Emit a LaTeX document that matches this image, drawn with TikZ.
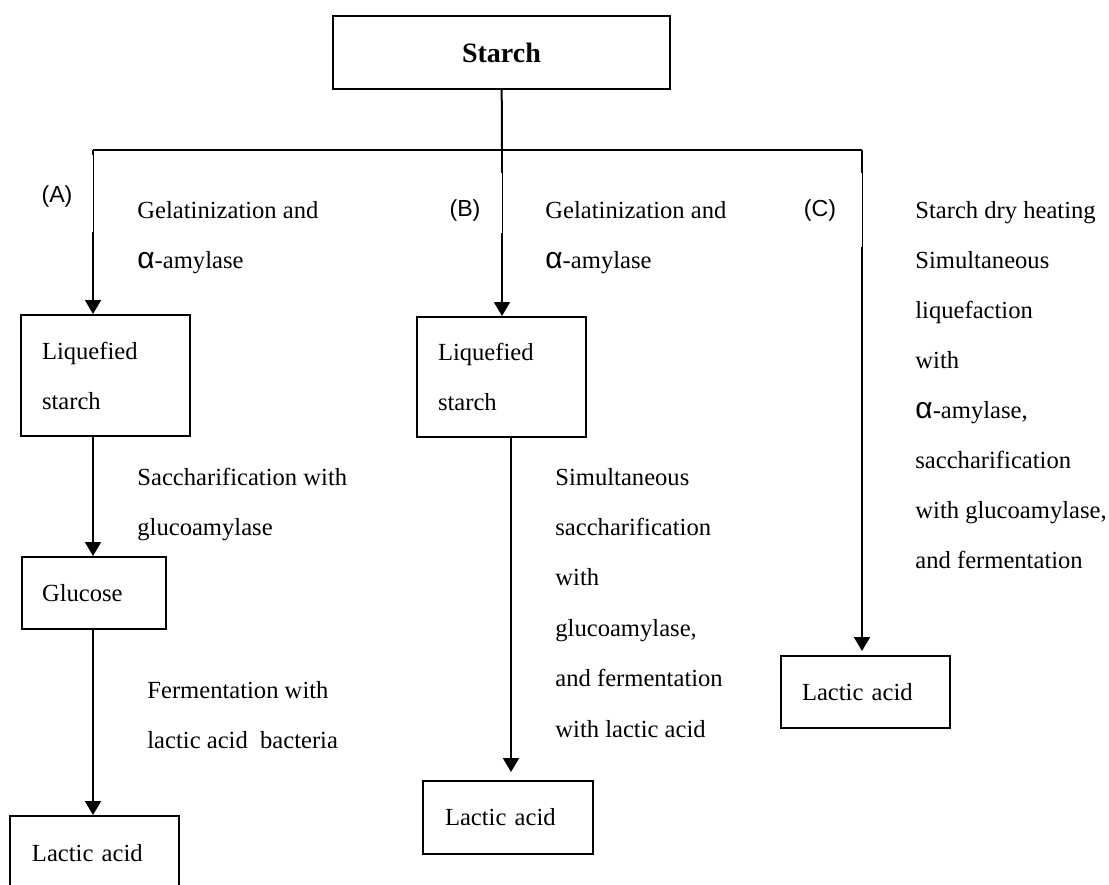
\documentclass[tikz,border=0pt]{standalone}
\usepackage{fontspec}
\setmainfont{Liberation Serif}
\newfontfamily\labelfont{Liberation Sans}
\usetikzlibrary{arrows.meta}

\newcommand{\alp}{{\labelfont\fontsize{15}{25}\selectfont α}}

\begin{document}
\begin{tikzpicture}[x=0.5pt, y=-0.5pt,
    stage/.style={draw, line width=1pt, align=left, inner ysep=0pt,
        font=\fontsize{12.3}{25}\selectfont},
    note/.style={anchor=base west, align=left, inner sep=0pt,
        font=\fontsize{12.3}{25}\selectfont},
    branch/.style={anchor=base, inner sep=0pt,
        font=\labelfont\fontsize{11.6}{14}\selectfont},
    link/.style={line width=1pt},
    thinlink/.style={line width=0.5pt},
    arr/.style={line width=1pt, -{Triangle[width=8pt,length=7pt]}}]
    \useasboundingbox (0,0) rectangle (1109,884);
    \node[stage, align=center, minimum width=168.5pt, minimum height=36.5pt,
        font=\bfseries\fontsize{14}{17}\selectfont] (starch) at (501.5,52.5) {Starch};
    % Boxes
    \node[stage, text width=63.5pt, inner xsep=10.5pt, minimum height=60.5pt] (liqA) at (105.5,375.5) {Liquefied\\starch};
    \node[stage, text width=52pt, inner xsep=10pt, minimum height=36pt] (glucA) at (94,593) {Glucose};
    \node[stage, text width=62.5pt, inner xsep=11pt, minimum height=37pt] (lacA) at (94.5,853) {Lactic acid};
    \node[stage, text width=63.5pt, inner xsep=10.5pt, minimum height=60pt] (liqB) at (501.5,377) {Liquefied\\starch};
    \node[stage, text width=63pt, inner xsep=11pt, minimum height=36.5pt] (lacB) at (508,817.5) {Lactic acid};
    \node[stage, text width=63.5pt, inner xsep=10.5pt, minimum height=36pt] (lacC) at (865.5,692) {Lactic acid};
    % Branch lines
    \coordinate (jA) at (93,150);
    \coordinate (jB) at (502,150);
    \coordinate (jC) at (862,150);
    \coordinate (gA1) at (93,155);
    \coordinate (gA2) at (93,232);
    \coordinate (gB1) at (502,173);
    \coordinate (gB2) at (502,233);
    \coordinate (gC1) at (862,173);
    \coordinate (gC2) at (862,247);
    \coordinate (dB) at (511,437);
    \draw[link] (starch) -- (jB);
    \draw[link] (jA) -- (jC);
    \draw[link] (jA) -- (gA1);
    \draw[thinlink] (gA1) -- (gA2);
    \draw[arr] (gA2) -- (gA2 |- liqA.north);
    \draw[arr] (liqA.south -| jA) -- (glucA.north -| jA);
    \draw[arr] (glucA.south -| jA) -- (lacA.north -| jA);
    \draw[link] (jB) -- (gB1);
    \draw[thinlink] (gB1) -- (gB2);
    \draw[arr] (gB2) -- (gB2 |- liqB.north);
    \draw[arr, shorten >=4pt] (dB) -- (dB |- lacB.north);
    \draw[link] (jC) -- (gC1);
    \draw[thinlink] (gC1) -- (gC2);
    \draw[arr, shorten >=2pt] (gC2) -- (gC2 |- lacC.north);
    % Labels (placed by the baseline of their last line)
    \node[branch] (labA) at (57,202) {(A)};
    \node[branch] (labB) at (465,216) {(B)};
    \node[branch] (labC) at (820,216) {(C)};
    \node[note] (gelA) at (137,268) {Gelatinization and\\\alp-amylase};
    \node[note] (sacA) at (137,535) {Saccharification with\\glucoamylase};
    \node[note] (ferA) at (147,748) {Fermentation with\\lactic acid~ bacteria};
    \node[note] (gelB) at (545,268) {Gelatinization and\\\alp-amylase};
    \node[note, font=\fontsize{12.3}{25.2}\selectfont] (simB) at (555,737)
        {Simultaneous\\saccharification\\with\\glucoamylase,\\and fermentation\\with lactic acid};
    \node[note] (dryC) at (915,568) {Starch dry heating\\Simultaneous\\liquefaction\\with\\\alp-amylase,\\saccharification\\with glucoamylase,\\and fermentation};
\end{tikzpicture}
\end{document}
